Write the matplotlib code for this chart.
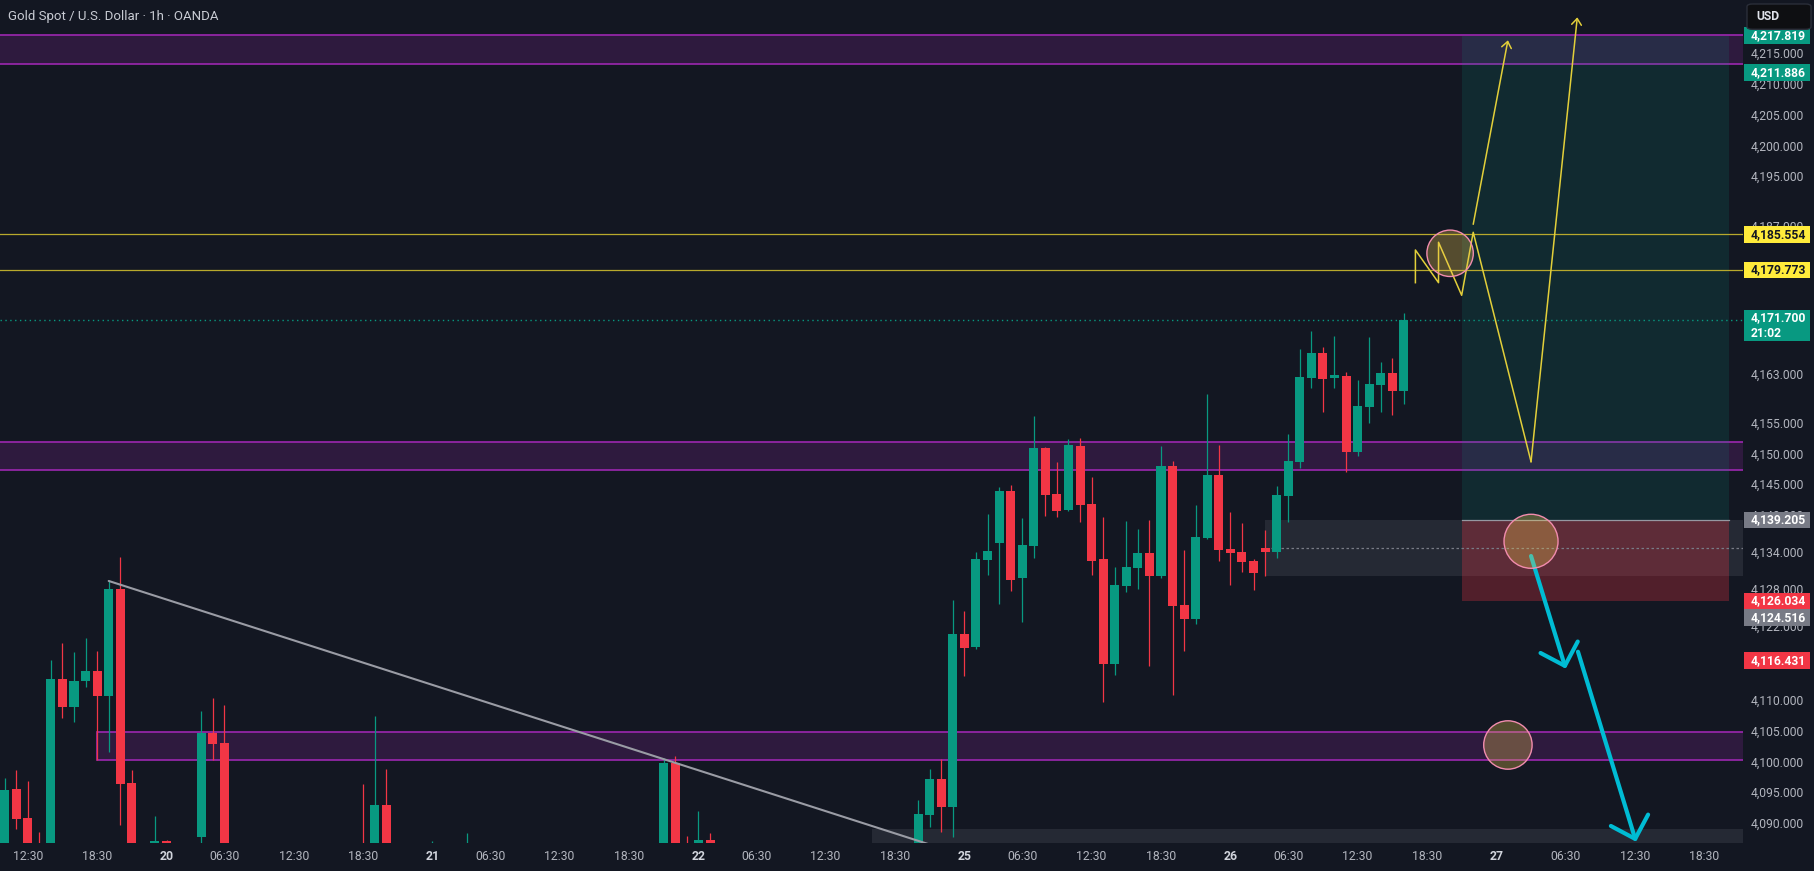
import matplotlib
matplotlib.use('Agg')
import matplotlib.pyplot as plt
from matplotlib.patches import Rectangle, FancyBboxPatch
from matplotlib.transforms import blended_transform_factory
import numpy as np

plt.rcParams['font.family'] = ['Roboto', 'DejaVu Sans']

BG = '#131722'
UP = '#089981'
DN = '#f23645'
PURPLE = '#9c27b0'
YEL = '#e2cf3a'
CYAN = '#00bcd4'
AXTXT = '#b2b5be'

# ---------------- data ----------------
bar_idx = [-14, -13, -12, -11, -10, -9, -8, -7, -6, -5, -4, -3, -1, 0, 3, 4, 5, 17, 18, 19, 23, 26,
           43, 44, 45, 46, 47, 65, 66, 67, 68, 69, 70, 71, 72, 73, 74, 75, 76, 77, 78, 79, 80, 81,
           82, 83, 84, 85, 86, 87, 88, 89, 90, 91, 92, 93, 94, 95, 96, 97, 98, 99, 100, 101, 102,
           103, 104, 105, 106, 107]
opens = [4084.0, 4095.52, 4090.86, 4086.0, 4084.0, 4113.37, 4108.88, 4113.1, 4114.67, 4110.66, 4127.99,
         4096.49, 4085.0, 4087.08, 4087.77, 4104.61, 4102.98, 4085.0, 4084.0, 4092.92, 4084.0, 4084.0,
         4085.0, 4099.74, 4085.5, 4085.0, 4087.24, 4084.0, 4091.3, 4097.14, 4092.59, 4120.68, 4118.62,
         4132.74, 4135.5, 4143.89, 4129.82, 4135.01, 4150.88, 4143.41, 4140.86, 4151.2, 4141.78, 4132.85,
         4115.86, 4128.52, 4131.45, 4133.83, 4130.15, 4147.95, 4125.39, 4123.16, 4136.27, 4146.49, 4134.48,
         4133.99, 4132.53, 4134.64, 4134.04, 4143.13, 4148.6, 4162.24, 4166.3, 4162.24, 4162.56, 4150.23,
         4157.53, 4161.1, 4163.05, 4160.13]
highs = [4097.25, 4098.6, 4096.8, 4088.54, 4116.46, 4119.22, 4117.76, 4120.03, 4117.92, 4129.29, 4133.18,
         4098.6, 4091.13, 4087.3, 4108.18, 4110.29, 4109.15, 4096.33, 4107.37, 4098.76, 4087.0, 4088.37,
         4100.55, 4100.88, 4087.89, 4091.95, 4088.37, 4093.73, 4098.76, 4100.39, 4126.2, 4124.41, 4133.99,
         4140.16, 4144.54, 4144.87, 4139.51, 4156.07, 4151.04, 4148.6, 4152.33, 4152.5, 4146.17, 4139.68,
         4131.56, 4139.03, 4137.73, 4139.19, 4151.2, 4148.76, 4134.32, 4141.62, 4159.64, 4151.36, 4140.49,
         4138.7, 4132.85, 4137.57, 4144.7, 4153.15, 4166.94, 4169.87, 4167.27, 4169.06, 4163.21, 4161.91,
         4168.9, 4164.84, 4165.49, 4172.79]
lows = [4082.0, 4088.97, 4082.0, 4082.0, 4082.0, 4107.09, 4106.44, 4112.12, 4100.22, 4101.52, 4089.67,
        4082.0, 4083.0, 4083.0, 4085.0, 4100.22, 4082.0, 4081.0, 4082.0, 4082.0, 4083.0, 4083.0,
        4083.0, 4082.0, 4082.0, 4083.0, 4083.0, 4082.0, 4089.35, 4088.54, 4087.72, 4113.91, 4118.2,
        4130.31, 4125.6, 4127.71, 4122.68, 4133.07, 4139.89, 4139.72, 4140.7, 4138.91, 4130.31, 4109.69,
        4114.07, 4127.55, 4128.04, 4115.54, 4129.82, 4110.83, 4117.97, 4122.35, 4136.1, 4132.58, 4128.68,
        4130.8, 4127.83, 4130.15, 4133.07, 4138.91, 4147.63, 4160.62, 4156.72, 4160.62, 4146.98, 4149.58,
        4154.93, 4156.72, 4156.23, 4158.02]
closes = [4095.35, 4090.7, 4084.0, 4084.0, 4113.37, 4108.88, 4113.05, 4114.67, 4110.66, 4127.99, 4096.38,
          4084.0, 4087.08, 4085.0, 4104.61, 4102.87, 4084.0, 4083.0, 4092.92, 4084.0, 4085.0, 4085.5,
          4099.74, 4084.0, 4084.0, 4087.24, 4085.0, 4091.46, 4097.14, 4092.59, 4120.68, 4118.45, 4132.85,
          4134.15, 4143.89, 4129.5, 4135.13, 4150.88, 4143.29, 4140.7, 4151.36, 4141.67, 4132.58, 4115.86,
          4128.64, 4131.56, 4133.83, 4130.15, 4147.95, 4125.27, 4123.16, 4136.43, 4146.49, 4134.37, 4133.88,
          4132.42, 4130.63, 4134.04, 4143.25, 4148.76, 4162.4, 4166.3, 4162.08, 4162.73, 4150.23, 4157.69,
          4161.26, 4163.05, 4160.13, 4171.7]

time_tick_pos = [-12, -6, 0, 5, 11, 17, 23, 28, 34, 40, 46, 51, 57, 63, 69, 74, 80, 86, 92, 97,
                 103, 109, 115, 121, 127, 133]
time_tick_labels = ['12:30', '18:30', '20', '06:30', '12:30', '18:30', '21', '06:30', '12:30', '18:30',
                    '22', '06:30', '12:30', '18:30', '25', '06:30', '12:30', '18:30', '26', '06:30',
                    '12:30', '18:30', '27', '06:30', '12:30', '18:30']
price_ticks = [4215, 4210, 4205, 4200, 4195, 4187, 4163, 4155, 4150, 4145, 4140, 4134,
               4128, 4122, 4110, 4105, 4100, 4095, 4090]

x_range = (-14.4, 136.33)
y_range = (4086.75, 4223.6)

zone_start = [-16, -16, -6]
zone_top = [4217.87, 4151.8, 4104.72]
zone_bottom = [4213.17, 4147.25, 4100.18]

level_lines = [4185.554, 4179.773]
last_price = 4171.7

trend_x = [-5, 66]
trend_y = [4129.29, 4086.5]

pos_x = [112, 135.1]
pos_entry, pos_target, pos_stop = 4139.205, 4217.819, 4126.034

range_box_x0, range_box_top, range_box_bottom, range_box_mid = 95, 4139.205, 4130.15, 4134.6
floor_box_x0, floor_box_top = 61, 4089.03

zz_x = [108, 108, 110, 110, 112, 113, 118, 122]
zz_y = [4177.71, 4183.02, 4177.71, 4184.27, 4175.66, 4185.89, 4148.65, 4220.79]
zz2_x = [113, 116]
zz2_y = [4187.19, 4217.06]

circle_x = [111, 118, 116]
circle_y = [4182.48, 4135.73, 4102.66]
circle_s = [1116, 1512, 1214]

cyan1_x, cyan1_y = [118, 121], [4133.34, 4115.05]
cyan2_x, cyan2_y = [122.06, 127.08], [4117.8, 4086.96]

badge_price = [4217.819, 4211.886, 4185.554, 4179.773, 4139.205, 4126.034, 4123.35, 4116.431]
badge_text = ['4,217.819', '4,211.886', '4,185.554', '4,179.773', '4,139.205', '4,126.034',
              '4,124.516', '4,116.431']
badge_face = [UP, UP, '#ffeb3b', '#ffeb3b', '#787b86', DN, '#787b86', DN]
badge_tc = ['white', 'white', '#131722', '#131722', 'white', 'white', 'white', 'white']

# ---------------- figure ----------------
W, H = 1815, 871
fig = plt.figure(figsize=(W / 100, H / 100), dpi=100, facecolor=BG)
ax = fig.add_axes([0, 28 / H, 1743 / W, 843 / H])
ax.set_facecolor(BG)
ax.set_xlim(*x_range)
ax.set_ylim(*y_range)
for s in ax.spines.values():
    s.set_visible(False)

# zones
for x0, t, b in zip(zone_start, zone_top, zone_bottom):
    ax.add_patch(Rectangle((x0, b), x_range[1] + 10 - x0, t - b, facecolor=(156/255, 39/255, 176/255, 0.2),
                           edgecolor=PURPLE, lw=1.2, zorder=1))

# boxes
ax.add_patch(Rectangle((range_box_x0, range_box_bottom), x_range[1] + 10 - range_box_x0,
                       range_box_top - range_box_bottom, facecolor=(120/255, 123/255, 134/255, 0.18),
                       edgecolor='none', zorder=1))
ax.plot([range_box_x0 + 0.5, x_range[1]], [range_box_mid] * 2, color='#787b86', lw=0.9,
        ls=(0, (2, 2)), zorder=1.3)
ax.add_patch(Rectangle((floor_box_x0, y_range[0] - 10), x_range[1] + 10 - floor_box_x0,
                       floor_box_top - y_range[0] + 10, facecolor=(120/255, 123/255, 134/255, 0.18),
                       edgecolor='none', zorder=1))

# position tool
ax.add_patch(Rectangle((pos_x[0], pos_entry), pos_x[1] - pos_x[0], pos_target - pos_entry,
                       facecolor=(8/255, 153/255, 129/255, 0.15), edgecolor='none', zorder=1))
ax.add_patch(Rectangle((pos_x[0], pos_stop), pos_x[1] - pos_x[0], pos_entry - pos_stop,
                       facecolor=(242/255, 54/255, 69/255, 0.28), edgecolor='none', zorder=1))
ax.plot(pos_x, [pos_entry] * 2, color='#9598a1', lw=0.9, zorder=1.4)

# level lines
for lv in level_lines:
    ax.axhline(lv, color='#b8a92c', lw=0.9, zorder=1.5)
ax.axhline(last_price, color=UP, lw=1.0, ls=(0, (1, 2.5)), zorder=1.6)

# candles
o = np.array(opens); h = np.array(highs); l = np.array(lows); c = np.array(closes)
cols = [UP if cc >= oo else DN for oo, cc in zip(o, c)]
ax.vlines(bar_idx, l, h, colors=cols, lw=0.9, zorder=3)
ax.bar(bar_idx, np.maximum(np.abs(c - o), 0.15), bottom=np.minimum(o, c), width=0.78,
       color=cols, linewidth=0, zorder=3.1)

# trend line
ax.plot(trend_x, trend_y, color='#9a9ca5', lw=1.5, zorder=4, solid_capstyle='round')

# yellow forecast
ax.plot(zz_x[:-1], zz_y[:-1], color=YEL, lw=1.1, zorder=5)
ax.annotate('', xy=(zz_x[-1], zz_y[-1]), xytext=(zz_x[-2], zz_y[-2]),
            arrowprops=dict(arrowstyle='->,head_length=0.45,head_width=0.35', color=YEL, lw=1.1,
                            shrinkA=0, shrinkB=0, mutation_scale=10), zorder=5)
ax.annotate('', xy=(zz2_x[1], zz2_y[1]), xytext=(zz2_x[0], zz2_y[0]),
            arrowprops=dict(arrowstyle='->,head_length=0.45,head_width=0.35', color=YEL, lw=1.1,
                            shrinkA=0, shrinkB=0, mutation_scale=10), zorder=5)

# cyan arrows
for xs, ys in [(cyan1_x, cyan1_y), (cyan2_x, cyan2_y)]:
    ax.annotate('', xy=(xs[1], ys[1]), xytext=(xs[0], ys[0]),
                arrowprops=dict(arrowstyle='->,head_length=0.7,head_width=0.7', color=CYAN, lw=3,
                                shrinkA=0, shrinkB=0, mutation_scale=20), zorder=5)

# circles
ax.scatter(circle_x, circle_y, s=circle_s, facecolor=(240/255, 200/255, 80/255, 0.3),
           edgecolors='#f28cae', linewidths=1.0, zorder=6)

# axes ticks
ax.yaxis.tick_right()
ax.set_yticks(price_ticks)
ax.set_yticklabels([f'{v:,.3f}' for v in price_ticks])
ax.tick_params(axis='y', length=0, pad=5.8, labelsize=8.7, labelcolor=AXTXT)
ax.set_xticks(time_tick_pos)
ax.set_xticklabels(time_tick_labels)
ax.tick_params(axis='x', length=0, pad=4.8, labelsize=8.8, labelcolor=AXTXT)
for lab in ax.get_xticklabels():
    if ':' not in lab.get_text():
        lab.set_fontweight('bold')
        lab.set_color('#d1d4dc')

# badges
tr = blended_transform_factory(fig.transFigure, ax.transData)
bh = 16.7 / 6.16
for p, t, fc, tc in zip(badge_price, badge_text, badge_face, badge_tc):
    fig.add_artist(Rectangle((1744 / W, p - bh / 2), 66 / W, bh, transform=tr, facecolor=fc,
                             edgecolor='none', zorder=5))
    fig.text(1751 / W, p, t, transform=tr, color=tc, fontsize=8.7, fontweight='bold',
             va='center', ha='left', zorder=6)
fig.add_artist(Rectangle((1744 / W, last_price - 3.4), 66 / W, 4.98, transform=tr, facecolor=UP,
                         edgecolor='none', zorder=5))
fig.text(1751 / W, last_price + 0.3, '4,171.700', transform=tr, color='white', fontsize=8.7,
         fontweight='bold', va='center', ha='left', zorder=6)
fig.text(1751 / W, last_price - 2.16, '21:02', transform=tr, color='white', fontsize=8.7,
         fontweight='bold', va='center', ha='left', zorder=6)

# USD box
fig.add_artist(FancyBboxPatch((1747 / W, 1 - 29.3 / H), 64 / W, 25.3 / H,
                              boxstyle='round,pad=0,rounding_size=0.003', transform=fig.transFigure,
                              facecolor='#0e0f12', edgecolor='#2a2e39', lw=1.0, zorder=7))
fig.text(1756 / W, 1 - 17 / H, 'USD', color='#e0e3eb', fontsize=8.7, fontweight='bold',
         va='center', ha='left', zorder=8)

# title
fig.text(8 / W, 1 - 16.7 / H, 'Gold Spot / U.S. Dollar · 1h · OANDA', color='#c8cbd3',
         fontsize=9.5, va='center', ha='left', zorder=8)

fig.savefig('out.png', dpi=100, facecolor=BG)
